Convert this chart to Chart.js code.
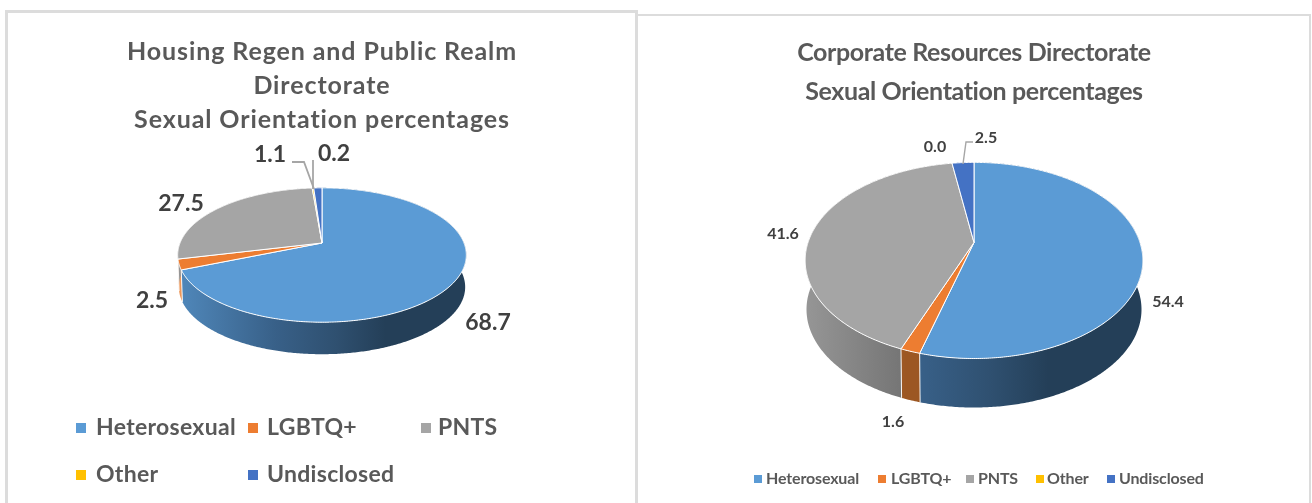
<!DOCTYPE html>
<html>
<head>
<meta charset="utf-8">
<script src="https://cdn.jsdelivr.net/npm/chart.js@4"></script>
<style>
html,body{margin:0;padding:0;background:#fff;width:1312px;height:503px;overflow:hidden}
.frame{position:absolute;box-sizing:border-box;border:solid #dcdcdc;background:#fff}
canvas{position:absolute;top:0;filter:blur(0.4px)}
</style>
</head>
<body>
<div class="frame" style="left:5px;top:10px;width:633px;height:520px;border-width:3px"></div>
<div class="frame" style="left:638px;top:14px;width:673px;height:520px;border-width:2.5px 2.5px 0 0"></div>
<canvas id="housing" style="left:0"></canvas>
<canvas id="corporate" style="left:637px"></canvas>
<script>
const categories = ['Heterosexual', 'LGBTQ+', 'PNTS', 'Other', 'Undisclosed'];
const sliceColors = ['#5b9bd5', '#ed7d31', '#a5a5a5', '#ffc000', '#4472c4'];
const housingValues = [68.7, 2.5, 27.5, 0.2, 1.1];
const corporateValues = [54.4, 1.6, 41.6, 0.0, 2.5];
const housingTitle = ['Housing Regen and Public Realm', 'Directorate', 'Sexual Orientation percentages'];
const corporateTitle = ['Corporate Resources Directorate', 'Sexual Orientation percentages'];
const FONT = 'Lato, "Open Sans", sans-serif';
const TEXT = '#595959', LABEL = '#404040';

// Wall shading by horizontal position across the pie (0 = left edge, 1 = right edge)
const wallStops = [
  [[0,'#5088bb'],[0.34,'#386088'],[0.55,'#2f5070'],[0.72,'#243f58'],[1,'#243f58']],
  [[0,'#f09a5c'],[0.12,'#b56a30'],[0.3,'#9c5723'],[1,'#9c5723']],
  [[0,'#969696'],[0.28,'#767676'],[1,'#6a6a6a']],
  [[0,'#d9a800'],[1,'#997700']],
  [[0,'#3c64ad'],[1,'#2a4679']]
];

const pie3d = {
  id: 'pie3d',
  beforeDraw(chart, args, opts) {
    chart.ctx.letterSpacing = opts.titleSpacing; // the title box is drawn next
  },
  beforeDatasetDraw(chart, args, opts) {
    const ctx = chart.ctx, arcs = chart.getDatasetMeta(args.index).data;
    ctx.letterSpacing = '0px';
    const { squash, perspective, depth, taper } = opts;
    const cx = arcs[0].x, cy = arcs[0].y, R = arcs[0].outerRadius, S = R * squash;
    const pt = t => {
      const d = 1 - perspective * Math.sin(t);
      return [cx + R * Math.cos(t) / d, cy + S * Math.sin(t) / d];
    };
    const low = p => [cx + (p[0] - cx) * taper, p[1] + depth];
    const extent = R / Math.sqrt(1 - perspective * perspective);
    const samples = (a, b) => {
      const n = Math.max(2, Math.ceil((b - a) / 0.01)), out = [];
      for (let i = 0; i <= n; i++) out.push(a + (b - a) * i / n);
      return out;
    };
    ctx.save();
    // side wall
    arcs.forEach((arc, i) => {
      const a = arc.startAngle, b = arc.endAngle;
      if (b - a <= 0) return;
      const g = ctx.createLinearGradient(cx - extent, 0, cx + extent, 0);
      wallStops[i].forEach(s => g.addColorStop(s[0], s[1]));
      const ts = samples(a, b);
      ctx.beginPath();
      ts.forEach((t, k) => { const p = pt(t); k ? ctx.lineTo(p[0], p[1]) : ctx.moveTo(p[0], p[1]); });
      ts.slice().reverse().forEach(t => { const p = low(pt(t)); ctx.lineTo(p[0], p[1]); });
      ctx.closePath();
      ctx.fillStyle = g;
      ctx.fill();
    });
    // seams between wall segments on the visible front
    ctx.strokeStyle = 'rgba(255,255,255,0.9)';
    ctx.lineWidth = 1;
    arcs.forEach(arc => {
      const t = arc.endAngle;
      if (Math.sin(t) < perspective || arc.endAngle - arc.startAngle <= 0) return;
      const p = pt(t), q = low(p);
      ctx.beginPath(); ctx.moveTo(p[0], p[1]); ctx.lineTo(q[0], q[1]); ctx.stroke();
    });
    // top face
    arcs.forEach((arc, i) => {
      const a = arc.startAngle, b = arc.endAngle;
      if (b - a <= 0) return;
      ctx.beginPath();
      ctx.moveTo(cx, cy);
      samples(a, b).forEach(t => { const p = pt(t); ctx.lineTo(p[0], p[1]); });
      ctx.closePath();
      ctx.fillStyle = sliceColors[i];
      ctx.strokeStyle = '#ffffff';
      ctx.lineJoin = 'round';
      ctx.lineWidth = 1;
      ctx.fill();
      ctx.stroke();
    });
    ctx.restore();
    return false; // the library's flat arcs are replaced by the tilted ones above
  },
  afterDatasetsDraw(chart, args, opts) {
    const ctx = chart.ctx;
    ctx.save();
    // leader lines
    ctx.strokeStyle = '#a6a6a6';
    ctx.lineWidth = opts.leaderWidth;
    opts.leaders.forEach(line => {
      ctx.beginPath();
      line.forEach((p, k) => k ? ctx.lineTo(p[0], p[1]) : ctx.moveTo(p[0], p[1]));
      ctx.stroke();
    });
    // value labels
    const values = chart.data.datasets[0].data;
    ctx.fillStyle = LABEL;
    ctx.font = opts.labelFont;
    ctx.textAlign = 'center';
    ctx.textBaseline = 'middle';
    values.forEach((v, i) => {
      const p = opts.labelAt[i];
      ctx.fillText(v.toFixed(1), p[0], p[1]);
    });
    // legend
    ctx.font = opts.legendFont;
    ctx.letterSpacing = opts.legendSpacing;
    ctx.textAlign = 'left';
    chart.data.labels.forEach((name, i) => {
      const e = opts.legendAt[i], m = opts.marker;
      ctx.fillStyle = sliceColors[i];
      ctx.fillRect(e[0], e[2] - m / 2, m, m);
      ctx.fillStyle = TEXT;
      ctx.fillText(name, e[1], e[2]);
    });
    ctx.letterSpacing = '0px';
    ctx.restore();
  }
};

function makePie(id, values, title, layout, titleFont, titlePad, lineH, tilt) {
  const canvas = document.getElementById(id);
  return new Chart(canvas, {
    type: 'pie',
    data: { labels: categories, datasets: [{ data: values, backgroundColor: sliceColors, borderWidth: 0 }] },
    plugins: [pie3d],
    options: {
      responsive: false,
      animation: false,
      events: [],
      radius: tilt.radius,
      layout: { padding: layout },
      plugins: {
        legend: { display: false },
        tooltip: { enabled: false },
        title: {
          display: true, text: title, color: TEXT, fullSize: false,
          font: { family: FONT, size: titleFont, weight: 'bold', lineHeight: lineH },
          padding: titlePad
        },
        pie3d: tilt
      }
    }
  });
}

for (const [id, w] of [['housing', 637], ['corporate', 675]]) {
  const c = document.getElementById(id);
  c.width = w; c.height = 503;
}

makePie('housing', housingValues, housingTitle,
  { left: 7, right: 0, top: 0, bottom: 154 }, 25, { top: 35, bottom: 0 }, 34 / 25,
  { radius: 142, squash: 0.458, perspective: 0.179, depth: 32, taper: 0.992,
    titleSpacing: '0.9px', legendSpacing: '0.3px', leaderWidth: 1.8,
    labelFont: 'bold 23px ' + FONT, legendFont: 'bold 23px ' + FONT, marker: 10,
    labelAt: [[488, 323], [152, 301], [181, 204], [334, 154], [270, 155]],
    legendAt: [[76, 96, 428], [248, 267, 428], [421, 438, 428], [76, 96, 475], [248, 267, 475]],
    leaders: [[[292, 162], [304, 162], [314, 189]], [[313, 160], [313, 189]]] });

makePie('corporate', corporateValues, corporateTitle,
  { left: 0, right: 1, top: 0, bottom: 129 }, 25, { top: 33, bottom: 0 }, 39 / 25,
  { radius: 166, squash: 0.571, perspective: 0.183, depth: 49, taper: 0.992,
    titleSpacing: '-0.38px', legendSpacing: '-0.15px', leaderWidth: 1.4,
    labelFont: 'bold 16px ' + FONT, legendFont: 'bold 16px ' + FONT, marker: 8,
    labelAt: [[531, 302], [256, 422], [146, 234], [298, 147], [349, 138]],
    legendAt: [[117, 129, 479], [241, 254, 479], [329, 341, 479], [399, 410, 479], [470, 482, 479]],
    leaders: [[[336, 142], [329, 142], [326, 164]]] });
</script>
</body>
</html>
